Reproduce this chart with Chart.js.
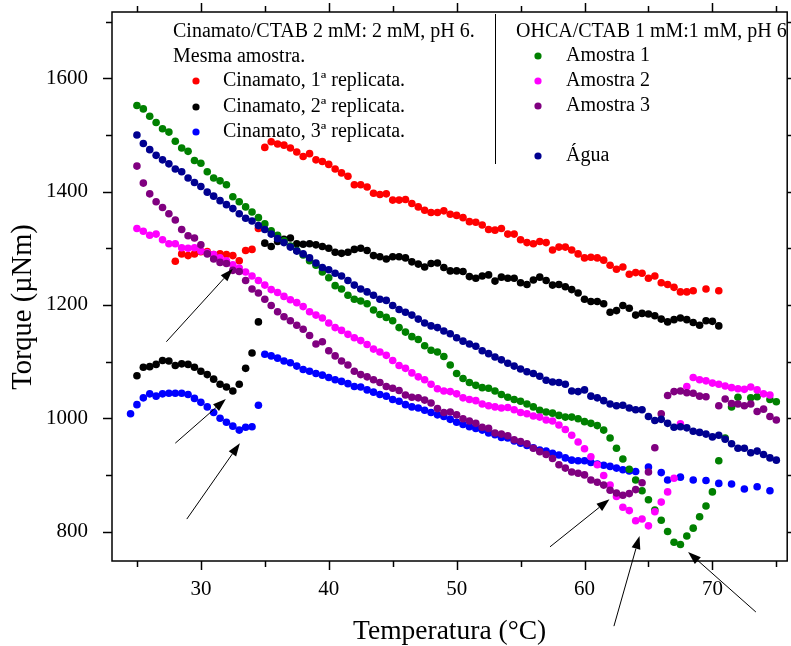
<!DOCTYPE html>
<html>
<head>
<meta charset="utf-8">
<script src="https://cdn.jsdelivr.net/npm/chart.js@4.4.1/dist/chart.umd.min.js"></script>
<style>
  html, body { margin: 0; padding: 0; background: #fff; }
  #grafico { display: block; }
</style>
</head>
<body>
<canvas id="grafico" width="791" height="646"></canvas>
<script>
// temperatura (°C) comum a todas as séries, passo de 0,5 °C
const temperatura = [
  24.5, 25, 25.5, 26, 26.5, 27, 27.5, 28, 28.5, 29,
  29.5, 30, 30.5, 31, 31.5, 32, 32.5, 33, 33.5, 34,
  34.5, 35, 35.5, 36, 36.5, 37, 37.5, 38, 38.5, 39,
  39.5, 40, 40.5, 41, 41.5, 42, 42.5, 43, 43.5, 44,
  44.5, 45, 45.5, 46, 46.5, 47, 47.5, 48, 48.5, 49,
  49.5, 50, 50.5, 51, 51.5, 52, 52.5, 53, 53.5, 54,
  54.5, 55, 55.5, 56, 56.5, 57, 57.5, 58, 58.5, 59,
  59.5, 60, 60.5, 61, 61.5, 62, 62.5, 63, 63.5, 64,
  64.5, 65, 65.5, 66, 66.5, 67, 67.5, 68, 68.5, 69,
  69.5, 70, 70.5, 71, 71.5, 72, 72.5, 73, 73.5, 74,
  74.5, 75
];

// torque (µNm) — Cinamato/CTAB, mesma amostra
const replicata1 = [
  null, null, null, null, null, null, null, 1277, 1290, 1287,
  1290, 1294, 1294, 1289, 1290, 1289, 1287, 1278, 1296, 1298,
  1335, 1478, 1488, 1484, 1482, 1477, 1470, 1462, 1467, 1456,
  1453, 1448, 1440, 1433, 1427, 1412, 1412, 1408, 1397, 1395,
  1396, 1385, 1385, 1386, 1379, 1373, 1367, 1363, 1363, 1366,
  1360, 1358, 1354, 1347, 1346, 1341, 1333, 1332, 1335, 1325,
  1325, 1315, 1310, 1308, 1312, 1310, 1297, 1302, 1302, 1297,
  1290, 1283, 1284, 1283, 1279, 1270, 1263, 1267, 1254, 1257,
  1256, 1247, 1251, 1239, 1236, 1231, 1223, 1223, 1225, null,
  1228, null, 1225, null, null, null, null, null, null, null,
  null, null
];
const replicata2 = [
  null, 1075, 1090, 1091, 1095, 1102, 1101, 1093, 1096, 1095,
  1090, 1083, 1077, 1069, 1060, 1055, 1048, 1060, 1088, 1115,
  1170, 1309, 1303, 1312, 1316, 1318, 1308, 1307, 1308, 1306,
  1303, 1300, 1293, 1291, 1293, 1298, 1300, 1296, 1287, 1285,
  1281, 1285, 1285, 1283, 1276, 1272, 1267, 1273, 1274, 1266,
  1260, 1260, 1259, 1250, 1247, 1251, 1253, 1242, 1249, 1247,
  1247, 1239, 1236, 1244, 1249, 1243, 1235, 1236, 1232, 1227,
  1221, 1210, 1206, 1206, 1202, 1187, 1190, 1199, 1194, 1182,
  1185, 1184, 1181, 1175, 1170, 1174, 1177, 1174, 1169, 1164,
  1172, 1171, 1163, null, null, null, null, null, null, null,
  null, null
];
const replicata3 = [
  1008, 1024, 1036, 1043, 1039, 1043, 1044, 1044, 1044, 1042,
  1035, 1028, 1020, 1010, 1000, 993, 986, 979, 984, 985,
  1023, 1113, 1110, 1106, 1101, 1098, 1092, 1086, 1083, 1079,
  1076, 1072, 1068, 1065, 1061, 1056, 1055, 1050, 1046, 1042,
  1039, 1033, 1030, 1024, 1020, 1018, 1014, 1010, 1006, 1003,
  998, 993, 989, 985, 982, 979, 974, 971, 966, 965,
  960, 956, 952, 948, 944, 942, 938, 935, 930, 926,
  925, 925, 922, 919, 917, 915, 912, 909, 907, 906,
  null, 914, null, 904, 891, null, 896, null, 891, null,
  890, null, 885, null, 884, null, 875, null, 879, null,
  872, null
];

// torque (µNm) — OHCA/CTAB e água
const amostra1 = [
  null, 1552, 1546, 1533, 1522, 1511, 1505, 1489, 1477, 1471,
  1455, 1450, 1435, 1424, 1419, 1412, 1391, 1382, 1373, 1364,
  1354, 1343, 1331, 1323, 1313, 1304, 1296, 1288, 1278, 1270,
  1258, 1248, 1234, 1228, 1217, 1210, 1207, 1202, 1191, 1183,
  1178, 1172, 1160, 1152, 1144, 1139, 1128, 1120, 1117, 1109,
  1094, 1079, 1070, 1063, 1058, 1054, 1053, 1048, 1042, 1037,
  1033, 1030, 1025, 1020, 1014, 1011, 1009, 1005, 1002, 1002,
  999, 994, 991, 987, 979, 965, 947, 928, 910, 891,
  872, 856, 838, 820, 800, 781, 777, 792, 806, 826,
  845, 870, 925, 965, 1020, 1037, null, 1036, 1038, null,
  1033, 1029
];
const amostra2 = [
  null, 1335, 1330, 1323, 1325, 1315, 1308, 1308, 1301, 1300,
  1301, 1295, 1292, 1289, 1283, 1278, 1271, 1265, 1258, 1251,
  1243, 1235, 1227, 1222, 1215, 1209, 1204, 1197, 1188, 1182,
  1177, 1168, 1160, 1155, 1148, 1142, 1137, 1130, 1122, 1117,
  1111, 1102, 1093, 1088, 1080, 1073, 1068, 1060, 1052, 1048,
  1047, 1043, 1036, 1033, 1031, 1025, 1022, 1020, 1018, 1019,
  1015, 1010, 1008, 1004, 1002, 997, 995, 988, 980, 970,
  958, 946, 932, 918, 899, 882, 862, 843, 837, 819,
  822, 810, 835, 852, 870, 894, 990, 1056, 1072, 1068,
  1066, 1062, 1060, 1057, 1054, 1052, 1051, 1055, 1050, 1043,
  1041, null
];
const amostra3 = [
  null, 1445, 1415, 1396, 1382, 1372, 1361, 1350, 1333, 1322,
  1318, 1306, 1290, 1281, 1275, 1273, 1261, 1259, 1243, 1228,
  1221, 1210, 1199, 1188, 1179, 1172, 1164, 1157, 1146, 1131,
  1135, 1119, 1110, 1101, 1094, 1083, 1077, 1073, 1068, 1063,
  1056, 1053, 1049, 1041, 1037, 1036, 1032, 1027, 1017, 1010,
  1011, 1006, 999, 995, 991, 984, 982, 974, 972, 969,
  962, 959, 955, 947, 941, 936, 929, 918, 912, 905,
  903, 900, 891, 887, 882, 873, 868, 864, 867, 874,
  886, 905, 948, 1008, 1040, 1047, 1048, 1045, 1044, 1039,
  1038, null, 1022, 1034, 1026, 1025, 1022, 1025, 1012, 1016,
  1003, 997
];
const agua = [
  null, 1500, 1485, 1474, 1464, 1456, 1449, 1440, 1435, 1424,
  1416, 1409, 1399, 1392, 1384, 1377, 1370, 1361, 1353, 1348,
  1340, 1333, 1325, 1317, 1310, 1302, 1295, 1290, 1283, 1274,
  1266, 1262, 1256, 1251, 1243, 1235, 1228, 1223, 1217, 1210,
  1208, 1199, 1192, 1187, 1182, 1175, 1168, 1163, 1160, 1154,
  1149, 1142, 1136, 1131, 1127, 1119, 1114, 1108, 1103, 1097,
  1092, 1087, 1082, 1079, 1074, 1067, 1064, 1063, 1060, 1048,
  1047, 1050, 1039, 1036, 1031, 1025, 1022, 1023, 1018, 1015,
  1015, 1003, 996, 998, 991, 984, 985, 983, 977, 975,
  972, 967, 970, 963, 955, 947, 947, 939, 942, 936,
  930, 926
];

const series = [replicata1, replicata2, replicata3, amostra1, amostra2, amostra3, agua];
const rotulos = [
  'Cinamato, 1ª replicata.', 'Cinamato, 2ª replicata.', 'Cinamato, 3ª replicata.',
  'Amostra 1', 'Amostra 2', 'Amostra 3', 'Água'
];
const cores = ['#ff0000', '#000000', '#0000ff', '#008000', '#ff00ff', '#800080', '#000090'];

const ticksX = [30, 40, 50, 60, 70];
const ticksXmenores = [25, 35, 45, 55, 65, 75];
const ticksY = [800, 1000, 1200, 1400, 1600];
const ticksYmenores = [900, 1100, 1300, 1500, 1700];

// setas: [T cauda, torque cauda, T ponta, torque ponta]
const setas = [
  [27.3, 1135, 32.5, 1264],
  [28.0, 956, 31.95, 1034],
  [28.9, 822, 33.05, 956],
  [57.3, 773, 61.95, 857],
  [62.3, 633, 64.3, 792],
  [73.4, 658, 68.1, 764]
];

const fonte = "'Liberation Serif', 'Times New Roman', serif";

function pontos(valores) {
  return temperatura
    .map((t, i) => ({ x: t, y: valores[i] }))
    .filter(p => p.y !== null);
}

// moldura com ticks para fora nos quatro lados + título do eixo y
const moldura = {
  id: 'moldura',
  afterDraw(chart) {
    const { ctx, chartArea: a, scales } = chart;
    const sx = scales.x, sy = scales.y;
    ctx.save();
    ctx.strokeStyle = '#000';
    ctx.lineWidth = 1.5;
    ctx.strokeRect(a.left, a.top, a.right - a.left, a.bottom - a.top);
    const marca = (x1, y1, x2, y2) => {
      ctx.beginPath(); ctx.moveTo(x1, y1); ctx.lineTo(x2, y2); ctx.stroke();
    };
    ticksX.concat(ticksXmenores).forEach(v => {
      const px = Math.round(sx.getPixelForValue(v)) + 0.5;
      const len = ticksX.includes(v) ? 9 : 6;
      if (px > a.right + 1) return;
      marca(px, a.bottom, px, a.bottom + len);
      marca(px, a.top, px, a.top - len);
    });
    ticksY.concat(ticksYmenores).forEach(v => {
      const py = Math.round(sy.getPixelForValue(v)) + 0.5;
      const len = ticksY.includes(v) ? 9 : 6;
      marca(a.left, py, a.left - len, py);
      marca(a.right, py, a.right + len, py);
    });

    ctx.translate(24, 307);
    ctx.rotate(-Math.PI / 2);
    ctx.font = '28.5px ' + fonte;
    ctx.fillStyle = '#000';
    ctx.textAlign = 'center';
    ctx.textBaseline = 'middle';
    ctx.fillText('Torque (µNm)', 0, 0);
    ctx.restore();
  }
};

// setas finas com ponta cheia
const anotacoes = {
  id: 'anotacoes',
  afterDraw(chart) {
    const { ctx, scales } = chart;
    ctx.save();
    ctx.strokeStyle = '#000';
    ctx.fillStyle = '#000';
    ctx.lineWidth = 1;
    setas.forEach(([t0, v0, t1, v1]) => {
      const x0 = scales.x.getPixelForValue(t0), y0 = scales.y.getPixelForValue(v0);
      const x1 = scales.x.getPixelForValue(t1), y1 = scales.y.getPixelForValue(v1);
      const ang = Math.atan2(y1 - y0, x1 - x0);
      const comp = 13, meia = 4.5;
      const bx = x1 - comp * Math.cos(ang), by = y1 - comp * Math.sin(ang);
      ctx.beginPath(); ctx.moveTo(x0, y0); ctx.lineTo(bx, by); ctx.stroke();
      ctx.beginPath();
      ctx.moveTo(x1, y1);
      ctx.lineTo(bx + meia * Math.sin(ang), by - meia * Math.cos(ang));
      ctx.lineTo(bx - meia * Math.sin(ang), by + meia * Math.cos(ang));
      ctx.closePath();
      ctx.fill();
    });
    ctx.restore();
  }
};

// legenda em dois blocos, separados por uma linha vertical
const legenda = {
  id: 'legenda',
  afterDraw(chart) {
    const { ctx } = chart;
    ctx.save();
    ctx.font = '20px ' + fonte;
    ctx.fillStyle = '#000';
    ctx.textBaseline = 'middle';
    ctx.textAlign = 'left';
    ctx.fillText('Cinamato/CTAB 2 mM: 2 mM, pH 6.', 173, 32);
    ctx.fillText('Mesma amostra.', 173, 57);
    ctx.fillText('OHCA/CTAB 1 mM:1 mM, pH 6', 516, 32);

    const linhas = [
      [196, 223, 81], [196, 223, 107], [196, 223, 132],
      [538, 566, 56], [538, 566, 81], [538, 566, 106], [538, 566, 156]
    ];
    linhas.forEach(([xp, xt, y], i) => {
      ctx.fillStyle = cores[i];
      ctx.beginPath(); ctx.arc(xp, y, 3.6, 0, Math.PI * 2); ctx.fill();
      ctx.fillStyle = '#000';
      ctx.fillText(rotulos[i], xt, y);
    });

    ctx.strokeStyle = '#000';
    ctx.lineWidth = 1;
    ctx.beginPath(); ctx.moveTo(495.5, 14); ctx.lineTo(495.5, 164); ctx.stroke();
    ctx.restore();
  }
};

new Chart(document.getElementById('grafico'), {
  type: 'scatter',
  data: {
    datasets: series.map((valores, i) => ({
      label: rotulos[i],
      data: pontos(valores),
      backgroundColor: cores[i],
      borderWidth: 0,
      pointRadius: 3.8,
      pointHoverRadius: 3.8,
      order: series.length - i
    }))
  },
  options: {
    responsive: false,
    animation: false,
    devicePixelRatio: 1,
    layout: { padding: { top: 12, right: 3, left: 0, bottom: 0 } },
    plugins: {
      legend: { display: false },
      tooltip: { enabled: false }
    },
    scales: {
      x: {
        type: 'linear',
        min: 23.05,
        max: 75.85,
        grid: { display: false, drawTicks: false },
        border: { display: false },
        afterBuildTicks: s => { s.ticks = ticksX.map(v => ({ value: v })); },
        afterFit: s => {
          s.height = 85;
          s.paddingLeft = 0; s.paddingRight = 0;
        },
        ticks: {
          autoSkip: false, maxRotation: 0, padding: 16, color: '#000',
          font: { family: fonte, size: 21 },
          callback: v => String(v)
        },
        title: {
          display: true, text: 'Temperatura (°C)', color: '#000', padding: 0,
          font: { family: fonte, size: 27.5, lineHeight: 1 }
        }
      },
      y: {
        min: 748,
        max: 1717,
        grid: { display: false, drawTicks: false },
        border: { display: false },
        afterBuildTicks: s => { s.ticks = ticksY.map(v => ({ value: v })); },
        afterFit: s => {
          s.width = 112;
          s.paddingTop = 0; s.paddingBottom = 0;
        },
        ticks: {
          autoSkip: false, padding: 24, color: '#000',
          font: { family: fonte, size: 21 },
          callback: v => String(v)
        },
        title: { display: false }
      }
    }
  },
  plugins: [moldura, anotacoes, legenda]
});
</script>
</body>
</html>
